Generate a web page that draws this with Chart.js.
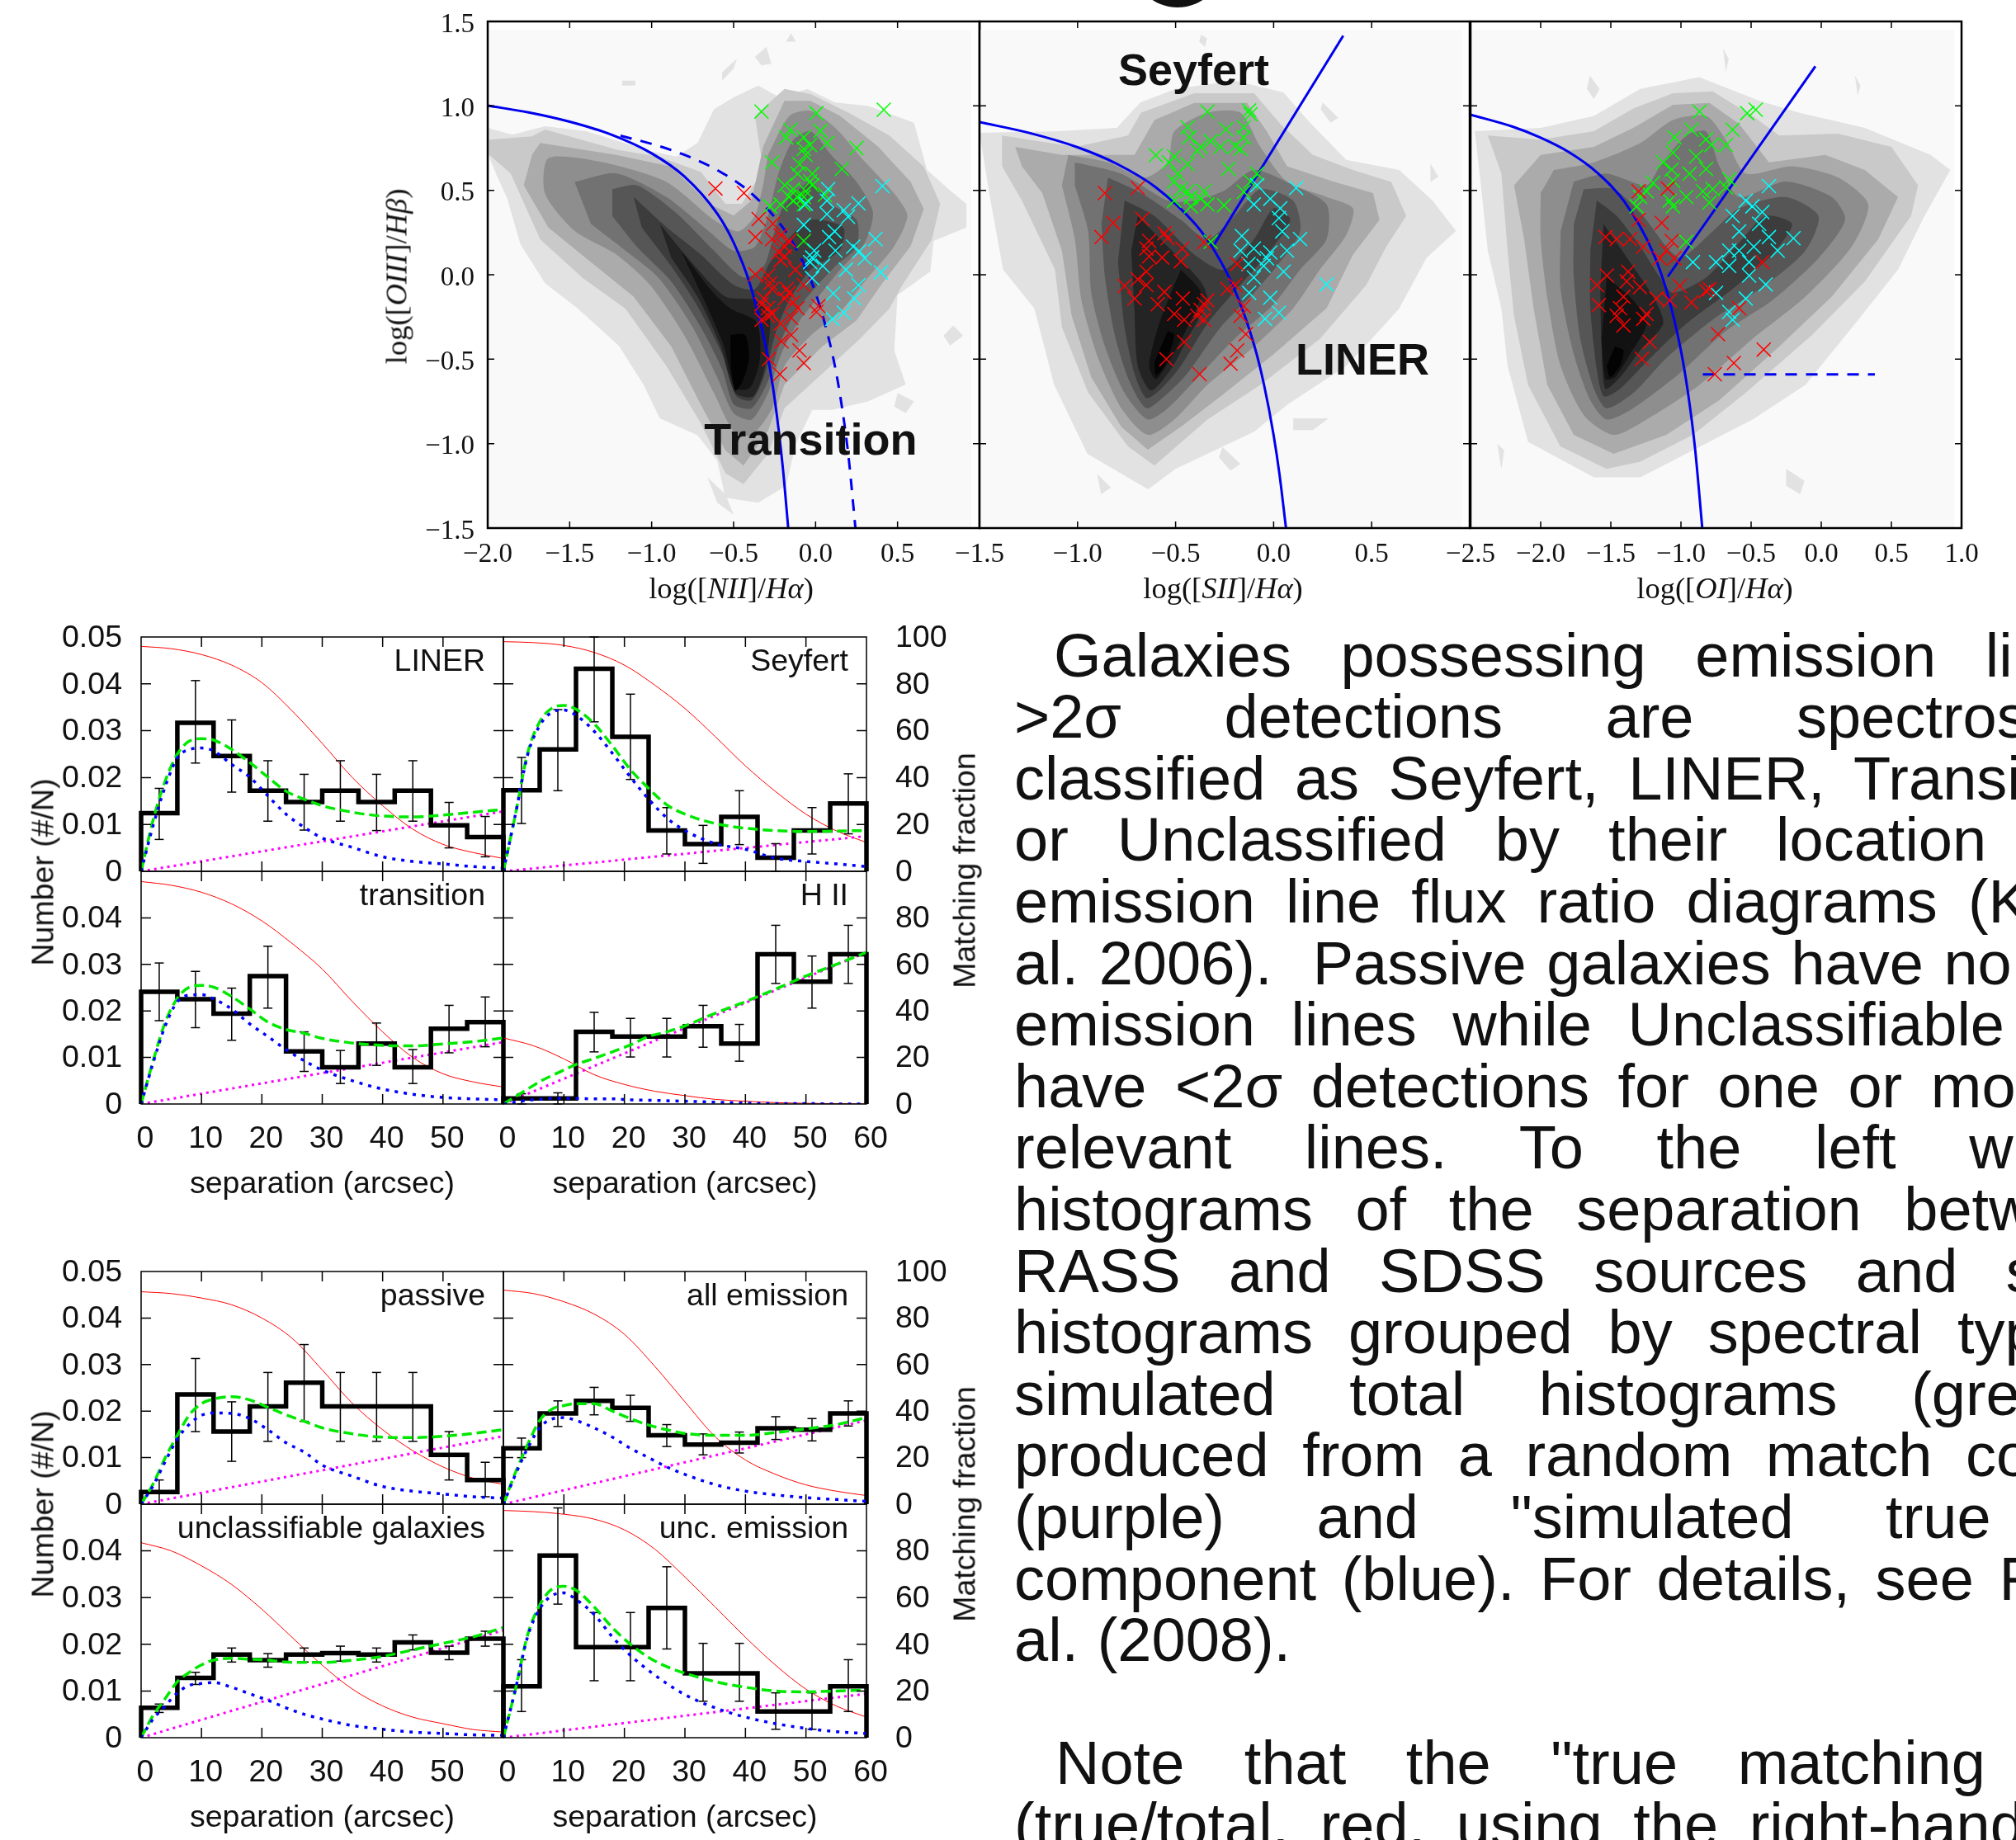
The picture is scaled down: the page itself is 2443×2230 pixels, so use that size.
<!DOCTYPE html>
<html><head><meta charset="utf-8">
<script src="https://cdn.jsdelivr.net/npm/chart.js@4"></script>
<style>
html,body{margin:0;padding:0;background:#fff}
#page{position:relative;width:2443px;height:2230px;overflow:hidden;background:#fff}
canvas{position:absolute}
.t{position:absolute;white-space:nowrap;color:#111}
.sans{font-family:"Liberation Sans",Arial,sans-serif;font-size:37.5px}
.serif{font-family:"Liberation Serif",serif;font-size:36.5px}
.para{position:absolute;white-space:pre;color:#111;font-family:"Liberation Sans",Arial,sans-serif;font-size:74px;line-height:74.6px;height:74.6px}
</style></head><body><div id="page"></div>
<script>
// ---------- histogram panels: shared axes ----------
const BIN_EDGES=[0,6,12,18,24,30,36,42,48,54,60];
const BIN_CENTERS=[3,9,15,21,27,33,39,45,51,57];
const CURVE_X=[0,2,4,6,8,10,12,15,18,21,24,27,30,35,40,45,50,55,60];
const RED_X=[0,5,10,15,20,25,30,35,40,45,50,55,60];
const PURPLE_X=[0,60];

const liner_hist=[.0124,.0317,.0246,.0172,.0148,.0172,.0148,.0172,.0098,.0073];
const liner_lo=[.0068,.0231,.0169,.0107,.0088,.0107,.0087,.0107,.005,.0031];
const liner_hi=[.0177,.0407,.0323,.0236,.0207,.0236,.0207,.0236,.0147,.0117];
const liner_blue=[0,.0098,.0181,.0242,.026,.0263,.0257,.0228,.0201,.0161,.0122,.0094,.0071,.0051,.0031,.0021,.0016,.001,.0007];
const liner_green=[0,.011,.0193,.025,.0278,.0283,.028,.026,.0232,.0201,.0171,.0154,.014,.0126,.0118,.0116,.012,.0126,.0132];
const liner_purple=[0,.0128];
const liner_red=[96,95,92.5,88,80.5,68.5,54.6,40,28,18,11.5,8,5.5];

const seyfert_hist=[.0173,.026,.0432,.0287,.0087,.0058,.0116,.0029,.0087,.0145];
const seyfert_lo=[.0102,.0172,.0319,.0196,.0037,.0017,.0057,0,.0037,.008];
const seyfert_hi=[.0243,.0345,.05,.0378,.0136,.0098,.0172,.0059,.0136,.0208];
const seyfert_blue=[0,.0122,.0248,.0311,.0339,.0344,.0333,.0299,.0252,.0201,.0154,.0114,.0087,.0059,.0047,.0028,.0021,.0016,.001];
const seyfert_green=[0,.0122,.0252,.0319,.0348,.0354,.0346,.0315,.0268,.0217,.0177,.0142,.0122,.0102,.0092,.0087,.0085,.0086,.0087];
const seyfert_purple=[0,.0075];
const seyfert_red=[98,97.6,96.4,93.4,88,79.5,69.5,57.5,45,34,24.4,17.3,12.3];

const transition_hist=[.0241,.0225,.0194,.0275,.0113,.0079,.013,.0079,.0162,.0176];
const transition_lo=[.0179,.0164,.0137,.0206,.007,.0044,.0083,.0044,.011,.0123];
const transition_hi=[.0303,.0285,.0249,.0339,.0155,.0115,.0174,.0117,.0212,.023];
const transition_blue=[0,.0089,.0168,.022,.0234,.0235,.0226,.0204,.0172,.0145,.0117,.0093,.0073,.005,.0032,.0021,.0014,.0011,.0009];
const transition_green=[0,.0093,.0176,.0227,.0251,.0255,.0251,.0231,.0204,.0176,.016,.0152,.0141,.0131,.0126,.0125,.0129,.0134,.0142];
const transition_purple=[0,.0133];
const transition_red=[95.6,94,91,86,78.7,69,58,44,31,20,13,9.5,7.3];

const hii_hist=[.0012,.0012,.0155,.0145,.0145,.0167,.013,.0322,.0263,.0322];
const hii_lo=[0,0,.0112,.0101,.0101,.0122,.0092,.0259,.0206,.0259];
const hii_hi=[.0022,.0024,.0197,.0184,.0184,.0212,.0171,.0384,.0318,.0384];
const hii_blue=[0,.0004,.0008,.001,.0012,.0012,.0012,.0011,.0011,.0009,.0008,.0007,.0006,.0004,.0002,.0001,.0001,0,0];
const hii_green=[0,.0016,.0032,.0048,.0061,.0073,.0085,.0098,.0112,.0127,.0145,.0155,.0168,.0195,.022,.0247,.0275,.03,.0326];
const hii_purple=[0,.0326];
const hii_red=[28.4,25,19.4,12.6,8.4,5.5,3.6,2,1.2,.6,.3,.15,0];

const passive_hist=[.0026,.0236,.0156,.021,.0261,.021,.021,.021,.0106,.0052];
const passive_lo=[0,.0156,.0092,.0135,.0178,.0135,.0135,.0135,.0052,.0016];
const passive_hi=[.0052,.0313,.022,.0283,.0343,.0283,.0283,.0283,.0156,.009];
const passive_blue=[0,.004,.0092,.014,.0172,.0191,.0196,.0195,.0184,.016,.0132,.0112,.0084,.006,.0038,.0028,.0022,.0016,.0013];
const passive_green=[0,.0044,.01,.0148,.0192,.0216,.0226,.0231,.0224,.0208,.0192,.0178,.0164,.0151,.0144,.0143,.0146,.0152,.016];
const passive_purple=[0,.0146];
const passive_red=[91.3,90.5,88.6,85.7,80,71.3,57.7,43.3,32,23,16,11.2,8.5];

const allem_hist=[.012,.0195,.0222,.0207,.0148,.0128,.0132,.0163,.016,.0195];
const allem_lo=[.01,.0167,.0192,.0178,.0124,.0106,.011,.0139,.0136,.0168];
const allem_hi=[.0142,.0222,.0251,.0234,.0171,.0151,.0155,.0188,.0184,.0222];
const allem_blue=[0,.0064,.012,.0164,.0183,.0186,.018,.0164,.0144,.012,.01,.008,.0064,.0042,.0028,.002,.0014,.001,.0006];
const allem_green=[0,.0068,.0128,.018,.0204,.0212,.0216,.0216,.02,.0184,.017,.016,.0152,.0148,.0148,.0154,.0162,.0171,.0186];
const allem_purple=[0,.018];
const allem_red=[92,90.5,87,81.7,73,59.3,44,29,19,12.8,8.3,5.6,3.7];

const uncl_hist=[.0064,.0128,.0178,.0166,.0178,.0181,.0178,.0204,.0182,.0212];
const uncl_lo=[.0054,.0114,.0162,.0151,.0162,.0164,.0162,.0188,.0167,.0196];
const uncl_hi=[.0072,.014,.0192,.018,.0192,.0196,.0192,.022,.0196,.0228];
const uncl_blue=[0,.004,.0068,.0096,.0112,.0116,.0118,.0108,.0094,.008,.0064,.005,.004,.0026,.0018,.0012,.0009,.0006,.0005];
const uncl_green=[0,.0048,.0084,.012,.014,.0156,.0166,.017,.0168,.0166,.0162,.0161,.0161,.0166,.0174,.0188,.0202,.0216,.0236];
const uncl_purple=[0,.023];
const uncl_red=[83.5,80,73.6,65.6,55,43,31,20.8,13.6,8.8,6,3.5,2.4];

const uncem_hist=[.011,.039,.0194,.0194,.0278,.0138,.0138,.0056,.0056,.011];
const uncem_lo=[.0056,.0286,.0122,.0122,.019,.0078,.0078,.0018,.0018,.0056];
const uncem_hi=[.0167,.0492,.0268,.0268,.0366,.0202,.0202,.0096,.0096,.0167];
const uncem_blue=[0,.0104,.0216,.0276,.0304,.031,.0296,.0264,.0216,.0176,.0144,.0116,.0092,.0064,.0044,.003,.002,.0013,.0009];
const uncem_green=[0,.0104,.022,.0284,.0318,.0324,.0316,.028,.0236,.02,.0172,.0152,.0138,.012,.0108,.01,.0098,.01,.0102];
const uncem_purple=[0,.0094];
const uncem_red=[97.3,96.8,95.7,93.6,89,80.8,68.8,56,43,31,20.8,13.6,8.8];

const X_TICKS_LEFT_HIDE=[60];
const PANEL_LABELS=['LINER','Seyfert','transition','H II','passive','all emission','unclassifiable galaxies','unc. emission'];

// ---------- diagnostic diagrams: boundary lines ----------
const nii_solid=[[-2,1.002],[-1.75,.961],[-1.5,.906],[-1.25,.831],[-1,.719],[-.8,.582],[-.6,.362],[-.5,.191],[-.4,-.056],[-.3,-.443],[-.25,-.733],[-.2,-1.14],[-.167,-1.5]];
const nii_dashed=[[-1.19,.823],[-1,.775],[-.8,.71],[-.6,.62],[-.4,.489],[-.2,.28],[-.1,.12],[0,-.108],[.1,-.459],[.15,-.716],[.2,-1.069],[.243,-1.5]];
const sii_solid=[[-1.5,.904],[-1.25,.841],[-1,.755],[-.8,.657],[-.6,.517],[-.4,.3],[-.3,.139],[-.2,-.085],[-.1,-.414],[-.05,-.646],[0,-.95],[.03,-1.183],[.063,-1.5]];
const sii_branch=[[-.304,.177],[.355,1.416]];
const oi_solid=[[-2.5,.948],[-2.2,.877],[-2,.812],[-1.8,.727],[-1.6,.607],[-1.4,.429],[-1.2,.133],[-1.1,-.101],[-1,-.45],[-.95,-.698],[-.9,-1.025],[-.848,-1.5]];
const oi_branch=[[-1.094,-.011],[-.042,1.234]];
const oi_dashed=[[-.844,-.59],[.382,-.59]];

// ---------- diagnostic diagrams: scatter points ----------
const nii_green=[[-.33,.966],[.416,.977],[.005,.957],[-.154,.859],[-.18,.814],[.03,.852],[-.072,.814],[.07,.78],[.25,.75],[-.033,.768],[-.072,.745],[-.06,.71],[-.265,.666],[.16,.627],[-.098,.655],[-.11,.598],[-.02,.598],[-.033,.552],[-.02,.53],[-.188,.53],[-.136,.507],[-.06,.495],[-.162,.461],[-.11,.461],[-.072,.461],[-.136,.439],[-.072,.416],[-.213,.416],[-.277,.405],[.057,.473],[-.072,.2]];
const nii_red=[[-.611,.511],[-.437,.484],[-.347,.33],[-.26,.302],[-.367,.223],[-.213,.234],[-.162,.2],[-.265,.211],[-.188,.166],[-.226,.132],[-.188,.109],[-.213,.086],[-.123,.03],[-.367,.002],[-.29,-.005],[-.277,-.05],[-.265,-.084],[-.072,-.061],[-.175,-.084],[-.162,-.107],[-.316,-.141],[-.329,-.175],[-.29,-.198],[-.136,-.164],[.018,-.186],[.005,-.22],[-.265,-.232],[-.329,-.266],[-.149,-.255],[-.213,-.289],[-.149,-.357],[-.208,-.395],[-.098,-.448],[-.285,-.5],[-.072,-.523],[-.218,-.589],[-.29,-.243],[-.188,-.141],[-.11,-.198]];
const nii_cyan=[[.408,.525],[.077,.507],[.069,.439],[.262,.423],[-.059,.42],[.172,.382],[.069,.359],[.198,.343],[-.072,.295],[.116,.257],[.082,.223],[.365,.211],[.229,.166],[.267,.139],[-.008,.143],[.121,.143],[-.021,.102],[.3,.098],[-.033,.075],[.044,.052],[.185,.03],[.398,.014],[-.021,-.02],[.262,-.061],[.108,-.111],[.236,-.141],[.172,-.225],[.103,-.261]];

const sii_green=[[-.338,.966],[-.125,.973],[-.118,.95],[-.439,.873],[-.243,.861],[-.152,.873],[-.429,.814],[-.152,.814],[-.321,.791],[-.372,.757],[-.27,.757],[-.196,.761],[-.169,.745],[-.389,.734],[-.601,.707],[-.507,.7],[-.439,.655],[-.534,.666],[-.23,.628],[-.084,.598],[-.49,.598],[-.507,.552],[-.118,.552],[-.473,.507],[-.439,.495],[-.355,.495],[-.152,.491],[-.507,.439],[-.422,.461],[-.372,.45],[-.338,.416],[-.253,.411],[-.422,.405],[-.321,.195]];
const sii_red=[[-.861,.484],[-.693,.514],[-.818,.307],[-.878,.223],[-.669,.33],[-.557,.245],[-.635,.2],[-.541,.216],[-.649,.155],[-.466,.155],[-.355,.193],[-.635,.109],[-.568,.102],[-.473,.08],[-.186,.064],[-.649,.018],[-.693,-.027],[-.76,-.066],[-.649,-.061],[-.557,-.102],[-.709,-.141],[-.591,-.175],[-.463,-.141],[-.236,-.084],[-.196,-.061],[-.507,-.232],[-.456,-.266],[-.389,-.243],[-.355,-.175],[-.338,-.152],[-.372,-.209],[-.152,-.186],[-.142,-.352],[-.456,-.398],[-.186,-.448],[-.547,-.5],[-.22,-.527],[-.378,-.589],[-.355,-.266],[-.169,-.243]];
const sii_cyan=[[.115,.514],[-.084,.53],[-.017,.45],[-.101,.416],[.034,.393],[.027,.336],[.044,.257],[.135,.211],[-.162,.23],[-.101,.155],[-.169,.143],[-.017,.132],[.068,.143],[-.034,.098],[.051,.018],[-.101,-.016],[.27,-.057],[-.125,-.107],[-.017,-.136],[.027,-.225],[-.044,-.261],[-.051,.052],[-.128,.064]];

const oi_green=[[-.467,.977],[-.528,.957],[-.868,.966],[-.925,.859],[-.632,.859],[-1.047,.814],[-.821,.802],[-.783,.768],[-.679,.768],[-.892,.7],[-1.057,.723],[-1.127,.666],[-.821,.627],[-1.066,.623],[-.939,.598],[-.656,.564],[-1.198,.545],[-1.057,.557],[-1.245,.495],[-.844,.495],[-.774,.507],[-.679,.518],[-1.292,.461],[-1.08,.439],[-.962,.461],[-.797,.427],[-1.316,.405],[-1.057,.405],[-.962,.195]];
const oi_red=[[-1.302,.495],[-1.094,.511],[-1.302,.325],[-1.137,.307],[-1.538,.223],[-1.458,.211],[-1.363,.211],[-1.269,.166],[-1.066,.2],[-1.104,.143],[-1.151,.098],[-1.047,.098],[-1.377,.018],[-1.528,-.005],[-1.599,-.061],[-1.387,-.039],[-1.292,-.073],[-1.009,-.066],[-.797,-.084],[-1.41,-.13],[-1.175,-.141],[-1.08,-.152],[-.925,-.164],[-1.585,-.18],[-1.434,-.198],[-1.245,-.232],[-1.458,-.243],[-1.269,-.261],[-1.41,-.3],[-.42,.075],[-.585,-.198],[-.736,-.352],[-1.222,-.398],[-1.278,-.498],[-.41,-.443],[-.623,-.523],[-.759,-.589],[-.821,-.095]];
const oi_cyan=[[-.373,.525],[-.538,.439],[-.491,.405],[-.632,.348],[-.42,.371],[-.443,.302],[-.585,.257],[-.373,.223],[-.198,.216],[-.481,.166],[-.656,.143],[-.585,.143],[-.311,.143],[-.915,.075],[-.75,.075],[-.656,.052],[-.514,.075],[-.514,-.005],[-.396,-.057],[-.75,-.107],[-.538,-.141],[-.656,-.22],[-.632,-.266]];

// ---------- diagnostic diagrams: density contours, outermost first ----------
const LEVEL_GRAYS=['#e2e2e2','#c9c9c9','#ababab','#8e8e8e','#727272','#565656','#3c3c3c','#242424','#121212','#030303'];
const nii_contours=[
[[-2,.87],[-1.85,.83],[-1.65,.88],[-1.4,.85],[-1.2,.79],[-1,.73],[-.85,.7],[-.72,.78],[-.62,.98],[-.5,1.05],[-.35,1.12],[-.22,1.05],[-.05,1.1],[.12,1.02],[.32,1],[.6,.9],[.68,.62],[.82,.5],[.92,.42],[.92,.28],[.72,.2],[.7,.02],[.5,-.12],[.48,-.45],[.55,-.65],[.32,-.75],[.1,-.8],[-.02,-.8],[-.12,-1],[-.18,-1.25],[-.35,-1.35],[-.55,-1.32],[-.6,-1.1],[-.72,-.95],[-.95,-.85],[-1.05,-.65],[-1.2,-.42],[-1.45,-.2],[-1.65,-.05],[-1.8,.18],[-1.88,.45],[-1.95,.6],[-2,.72]],
[[-1.99,.8],[-1.73,.82],[-1.65,.86],[-1.21,.74],[-.96,.7],[-.7,.61],[-.55,.42],[-.45,.42],[-.32,.62],[-.37,.94],[-.19,1.1],[-.03,1.07],[.2,.96],[.45,.825],[.66,.64],[.76,.42],[.71,.21],[.53,-.06],[.45,-.2],[.27,-.38],[.07,-.56],[-.19,-.79],[-.29,-1.06],[-.44,-1.24],[-.55,-1.175],[-.7,-.88],[-.91,-.54],[-1.16,-.2],[-1.42,-.02],[-1.68,.21],[-1.86,.6],[-1.99,.71]],
[[-1.68,.78],[-1.215,.71],[-.88,.64],[-.65,.42],[-.5,.35],[-.39,.44],[-.32,.76],[-.19,1.03],[-.03,1.03],[.15,.94],[.38,.76],[.58,.55],[.66,.39],[.58,.17],[.4,-.06],[.25,-.27],[.04,-.425],[-.19,-.65],[-.29,-.925],[-.44,-1.13],[-.55,-1.04],[-.7,-.77],[-.88,-.425],[-1.11,-.13],[-1.37,.075],[-1.63,.28],[-1.78,.53],[-1.73,.71]],
[[-.29,.71],[-.16,.94],[-.03,.97],[.12,.87],[.3,.67],[.48,.48],[.56,.35],[.48,.17],[.3,-.04],[.15,-.22],[-.03,-.36],[-.19,-.54],[-.265,-.79],[-.39,-.95],[-.5,-.925],[-.62,-.7],[-.8,-.36],[-1.01,-.06],[-1.215,.12],[-1.47,.26],[-1.65,.48],[-1.63,.69],[-1.32,.67],[-.91,.55],[-.62,.325],[-.47,.257],[-.37,.35],[-.32,.53]],
[[-1.47,.55],[-1.215,.6],[-.91,.46],[-.65,.257],[-.5,.143],[-.37,.166],[-.29,.35],[-.226,.6],[-.136,.8],[-.03,.85],[.095,.71],[.25,.55],[.35,.37],[.3,.19],[.15,.03],[.018,-.13],[-.11,-.29],[-.21,-.47],[-.29,-.7],[-.39,-.857],[-.5,-.82],[-.6,-.607],[-.75,-.31],[-.96,-.016],[-1.16,.143],[-1.37,.3]],
[[-1.24,.507],[-1.09,.53],[-.855,.37],[-.62,.143],[-.44,-.016],[-.316,.05],[-.25,.257],[-.19,.416],[-.03,.55],[.095,.416],[.25,.325],[.25,.166],[.12,.05],[-.03,-.107],[-.136,-.243],[-.226,-.425],[-.29,-.63],[-.39,-.79],[-.5,-.766],[-.57,-.56],[-.7,-.31],[-.88,-.04],[-1.09,.166],[-1.24,.348]],
[[-1.11,.46],[-.907,.28],[-.7,.12],[-.5,-.06],[-.37,-.084],[-.277,.075],[-.188,.19],[-.03,.325],[.17,.28],[.146,.143],[-.03,.03],[-.16,-.15],[-.24,-.334],[-.316,-.607],[-.39,-.743],[-.483,-.72],[-.57,-.47],[-.727,-.175],[-.88,.05],[-1.06,.28]],
[[-.95,.3],[-.78,.1],[-.55,-.13],[-.37,-.15],[-.28,-.25],[-.31,-.55],[-.38,-.72],[-.49,-.7],[-.58,-.42],[-.72,-.13],[-.88,.1]],
[[-.82,.14],[-.63,-.1],[-.52,-.2],[-.36,-.28],[-.34,-.5],[-.4,-.67],[-.49,-.67],[-.56,-.42],[-.67,-.17]],
[[-.52,-.357],[-.43,-.357],[-.406,-.493],[-.445,-.63],[-.49,-.686],[-.516,-.56]]
];
const sii_contours=[
[[-1.5,.84],[-1.1,.85],[-.8,.87],[-.68,1.02],[-.5,1.1],[-.2,1.15],[.05,1.08],[.17,.92],[.37,.68],[.64,.62],[.81,.44],[.93,.26],[.78,.1],[.64,-.2],[.5,-.38],[.37,-.54],[.07,-.77],[-.1,-.93],[-.5,-1.15],[-.64,-1.27],[-.95,-1.06],[-1.12,-.65],[-1.22,-.2],[-1.38,.03],[-1.45,.48]],
[[-1.385,.825],[-1.01,.757],[-.743,.825],[-.676,.96],[-.405,1.075],[-.1,1.075],[.034,.893],[.2,.71],[.405,.62],[.6,.55],[.676,.348],[.574,.166],[.473,-.06],[.236,-.38],[-.068,-.652],[-.338,-.857],[-.608,-1.13],[-.743,-1.016],[-.946,-.698],[-1.08,-.31],[-1.115,.03],[-1.284,.44],[-1.385,.643]],
[[-1.318,.757],[-1.08,.71],[-.878,.71],[-.71,.71],[-.608,.916],[-.405,1.018],[-.135,1.018],[-.034,.848],[.068,.643],[.304,.552],[.507,.484],[.54,.325],[.405,.12],[.27,-.198],[0,-.47],[-.27,-.72],[-.473,-.9],[-.642,-1.036],[-.777,-.9],[-.93,-.607],[-1.03,-.243],[-1.08,.143],[-1.18,.484],[-1.284,.643]],
[[-1.047,.71],[-.845,.666],[-.66,.575],[-.54,.666],[-.507,.848],[-.338,.96],[-.17,.96],[-.068,.757],[.068,.552],[.27,.461],[.405,.393],[.37,.234],[.236,.03],[.1,-.198],[-.1,-.425],[-.338,-.652],[-.507,-.857],[-.642,-.948],[-.777,-.79],[-.895,-.493],[-.98,-.152],[-1.014,.211],[-1.08,.53]],
[[-1.014,.666],[-.777,.598],[-.54,.439],[-.405,.439],[-.25,.5],[-.1,.62],[.1,.53],[.27,.416],[.27,.21],[.135,.03],[0,-.175],[-.2,-.38],[-.405,-.63],[-.54,-.79],[-.642,-.857],[-.76,-.7],[-.86,-.425],[-.93,-.107],[-.946,.257],[-1.014,.53]],
[[-.845,.575],[-.676,.484],[-.473,.325],[-.338,.21],[-.2,.348],[-.068,.507],[.1,.439],[.135,.257],[.017,.052],[-.1,-.107],[-.27,-.31],[-.44,-.584],[-.557,-.72],[-.649,-.79],[-.736,-.63],[-.81,-.357],[-.86,-.016],[-.878,.3]],
[[-.76,.44],[-.608,.348],[-.405,.12],[-.253,.03],[-.1,.21],[0,.393],[.085,.325],[-.034,.12],[-.17,-.06],[-.338,-.29],[-.473,-.54],[-.574,-.675],[-.649,-.73],[-.71,-.584],[-.76,-.31],[-.794,.075]],
[[-.693,.348],[-.54,.166],[-.372,-.04],[-.338,-.152],[-.44,-.38],[-.524,-.56],[-.625,-.686],[-.693,-.54],[-.71,-.2],[-.726,.143]],
[[-.473,.03],[-.372,-.107],[-.44,-.31],[-.524,-.493],[-.6,-.618],[-.635,-.54],[-.59,-.31],[-.524,-.107]],
[[-.54,-.334],[-.507,-.357],[-.557,-.54],[-.6,-.595],[-.608,-.516]]
];
const oi_contours=[
[[-2.47,.85],[-2,.87],[-1.62,.94],[-1.29,1.1],[-.87,1.17],[-.44,1.03],[-.16,.96],[.31,.87],[.78,.71],[.92,.62],[.736,.348],[.547,.03],[.264,-.266],[-.113,-.652],[-.49,-.857],[-.915,-1.04],[-1.29,-1.2],[-1.62,-1.2],[-2.09,-.99],[-2.236,-.54],[-2.28,-.2],[-2.377,.143],[-2.42,.484]],
[[-2.377,.825],[-2,.8],[-1.62,.85],[-1.34,.984],[-1.057,1.075],[-.774,1.086],[-.49,.94],[-.3,.825],[.12,.836],[.5,.757],[.69,.53],[.64,.348],[.31,-.04],[-.066,-.357],[-.54,-.7],[-.915,-.948],[-1.29,-1.107],[-1.53,-1.15],[-1.86,-1.016],[-2.09,-.652],[-2.19,-.243],[-2.236,.143],[-2.28,.6]],
[[-2,.71],[-1.62,.757],[-1.34,.87],[-1.057,1.007],[-.797,1.018],[-.585,.893],[-.373,.666],[.03,.71],[.31,.62],[.547,.46],[.406,.21],[.075,-.13],[-.3,-.425],[-.726,-.743],[-1.104,-.948],[-1.48,-1.06],[-1.764,-.948],[-1.953,-.652],[-2.05,-.2],[-2.118,.21],[-2.19,.53]],
[[-1.906,.62],[-1.62,.666],[-1.29,.78],[-1.057,.916],[-.82,.94],[-.68,.8],[-.538,.6],[-.208,.643],[.123,.575],[.335,.416],[.217,.166],[-.113,-.13],[-.49,-.38],[-.868,-.652],[-1.245,-.857],[-1.48,-.948],[-1.69,-.834],[-1.858,-.54],[-1.95,-.152],[-2,.21],[-2,.484]],
[[-1.764,.552],[-1.53,.598],[-1.245,.53],[-1.15,.643],[-.96,.825],[-.82,.848],[-.726,.643],[-.585,.46],[-.255,.552],[.075,.46],[.17,.325],[-.02,.098],[-.35,-.152],[-.68,-.334],[-1.01,-.584],[-1.34,-.79],[-1.53,-.857],[-1.646,-.743],[-1.764,-.47],[-1.858,-.084],[-1.858,.257]],
[[-1.693,.507],[-1.48,.507],[-1.27,.348],[-1.104,.166],[-1,.1],[-.774,.257],[-.585,.393],[-.255,.46],[-.02,.348],[-.113,.143],[-.396,-.06],[-.774,-.266],[-1.104,-.493],[-1.34,-.7],[-1.53,-.79],[-1.62,-.675],[-1.717,-.38],[-1.764,-.016],[-1.764,.3]],
[[-1.6,.44],[-1.458,.348],[-1.29,.166],[-1.15,-.016],[-1.057,-.107],[-.82,-.016],[-.585,.19],[-.396,.348],[-.208,.3],[-.35,.12],[-.632,-.084],[-.962,-.29],[-1.245,-.516],[-1.434,-.675],[-1.55,-.72],[-1.6,-.56],[-1.646,-.2],[-1.646,.143]],
[[-1.552,.3],[-1.363,.075],[-1.198,-.13],[-1.127,-.29],[-1.292,-.448],[-1.434,-.607],[-1.538,-.675],[-1.566,-.425],[-1.575,-.084]],
[[-1.528,-.016],[-1.34,-.152],[-1.245,-.29],[-1.363,-.47],[-1.47,-.607],[-1.538,-.618],[-1.566,-.38]],
[[-1.47,-.425],[-1.41,-.448],[-1.434,-.54],[-1.505,-.607],[-1.53,-.54]]
];
// small isolated patches of the faintest level
const nii_specks=[[[-.57,1.2],[-.48,1.28],[-.5,1.22],[-.57,1.15]],[[-.37,1.29],[-.3,1.35],[-.27,1.25],[-.33,1.24]],[[-1.18,1.15],[-1.1,1.15],[-1.1,1.12],[-1.18,1.12]],[[-.15,1.43],[-.12,1.38],[-.18,1.38]],[[-.66,-1.2],[-.55,-1.3],[-.5,-1.42],[-.6,-1.35]],[[.84,-.3],[.9,-.36],[.82,-.42],[.78,-.36]],[[.5,-.7],[.6,-.75],[.55,-.82],[.48,-.78]]];
const sii_specks=[[[-.37,1.42],[-.34,1.4],[-.35,1.35],[-.38,1.38]],[[.25,1.02],[.33,.93],[.29,.9],[.24,.98]],[[.8,.66],[.84,.58],[.8,.55]],[[.1,-.85],[.28,-.85],[.2,-.92],[.1,-.92]],[[-.26,-1.02],[-.17,-1.12],[-.22,-1.16],[-.28,-1.08]],[[-.9,-1.18],[-.83,-1.26],[-.88,-1.3]]];
const oi_specks=[[[-1.65,1.18],[-1.58,1.1],[-1.62,1.04],[-1.67,1.1]],[[-.7,1.34],[-.66,1.28],[-.68,1.2]],[[.24,1.18],[.28,1.12],[.26,1.06]],[[-.25,-1.15],[-.12,-1.22],[-.15,-1.3],[-.25,-1.25]],[[-2.31,-1],[-2.26,-1.04],[-2.28,-1.15]]];

// ---------- paragraph text, visible part of each line ----------
const PARA_LINES=['Galaxies possessing emission li','>2σ detections are spectros','classified as Seyfert, LINER, Transi','or Unclassified by their location','emission line flux ratio diagrams (K','al. 2006).\u00a0 Passive galaxies have no','emission lines while Unclassifiable','have <2σ detections for one or mo','relevant lines. To the left w','histograms of the separation betw','RASS and SDSS sources and s','histograms grouped by spectral typ','simulated total histograms (gre','produced from a random match co','(purple) and "simulated true','component (blue). For details, see F','al. (2008).','','Note that the "true matching','(true/total, red, using the right-hand'];
const PARA_WORD_GAPS=[39,104,15,38.5,16.5,4,23,14,68,31,38,22.5,69,20,91,10,2,0,52,17];
const PARA_INDENT=[48,0,0,0,0,0,0,0,0,0,0,0,0,0,0,0,0,0,50,0];

// ---------- helpers ----------
const page=document.getElementById('page');
const pts=a=>a.map(p=>({x:p[0],y:p[1]}));
const zip=(xs,ys)=>xs.map((x,i)=>({x,y:ys[i]}));
function histPts(v){const r=[{x:0,y:0},{x:0,y:v[0]}];for(let i=1;i<v.length;i++)r.push({x:BIN_EDGES[i],y:v[i]});r.push({x:60,y:0});return r;}
function errPts(lo,hi){const r=[];BIN_CENTERS.forEach((c,i)=>{r.push({x:c,y:lo[i]},{x:c,y:hi[i]},{x:c,y:null});});return r;}
function addText(html,cls,cx,cy,rot){const d=document.createElement('div');d.className='t '+cls;d.innerHTML=html;d.style.left=cx+'px';d.style.top=cy+'px';d.style.transform='translate(-50%,-50%)'+(rot?' rotate(-90deg)':'');page.appendChild(d);}

const framePlugin={id:'frame',afterDatasetsDraw(chart,a,o){
  const {ctx,chartArea:c}=chart;const sx=chart.scales.x,sy=chart.scales.y;
  ctx.save();ctx.strokeStyle='#000';ctx.lineWidth=o.tickWidth;ctx.beginPath();
  sx.ticks.forEach(t=>{const p=sx.getPixelForValue(t.value);if(p<c.left+2||p>c.right-2)return;ctx.moveTo(p,c.bottom);ctx.lineTo(p,c.bottom-o.len);ctx.moveTo(p,c.top);ctx.lineTo(p,c.top+o.len);});
  sy.ticks.forEach(t=>{const p=sy.getPixelForValue(t.value);if(p<c.top+2||p>c.bottom-2)return;ctx.moveTo(c.left,p);ctx.lineTo(c.left+o.len,p);ctx.moveTo(c.right,p);ctx.lineTo(c.right-o.len,p);});
  ctx.stroke();ctx.lineWidth=o.width;ctx.strokeRect(c.left,c.top,c.right-c.left,c.bottom-c.top);ctx.restore();
  if(o.label){ctx.save();ctx.font='37.5px "Liberation Sans"';ctx.fillStyle='#111';ctx.textAlign='right';ctx.textBaseline='middle';ctx.fillText(o.label,c.right-22,c.top+31);ctx.restore();}
  if(o.note){ctx.save();ctx.font='bold 54px "Liberation Sans"';ctx.fillStyle='#111';ctx.textAlign='center';ctx.textBaseline='alphabetic';ctx.fillText(o.note.text,sx.getPixelForValue(o.note.x),sy.getPixelForValue(o.note.y));ctx.restore();}
}};

function makeChart(rect,m,datasets,scales,frame){
  const cv=document.createElement('canvas');const W=rect.r-rect.l+m.l+m.r,H=rect.b-rect.t+m.t+m.b;
  cv.width=W;cv.height=H;cv.style.left=(rect.l-m.l)+'px';cv.style.top=(rect.t-m.t)+'px';cv.style.width=W+'px';cv.style.height=H+'px';page.appendChild(cv);
  const zero=s=>{s.paddingLeft=s.paddingRight=s.paddingTop=s.paddingBottom=0;};
  scales.x.afterFit=s=>{s.height=m.b;zero(s);};scales.y.afterFit=s=>{s.width=m.l;zero(s);};
  if(scales.y1)scales.y1.afterFit=s=>{if(scales.y1.display)s.width=m.r;zero(s);};
  return new Chart(cv,{type:'line',data:{datasets},plugins:[framePlugin],options:{responsive:false,animation:false,events:[],devicePixelRatio:1,
    layout:{autoPadding:false,padding:{left:0,top:m.t,bottom:0,right:(scales.y1&&scales.y1.display)?0:m.r}},
    plugins:{legend:{display:false},tooltip:{enabled:false},title:{display:false},frame},scales}});
}
const noGrid={grid:{display:false,drawTicks:false},border:{display:false}};

// ---------- the eight histogram panels ----------
function histPanel(rect,col,isBottom,isTopOfPair,label,hist,lo,hi,blue,green,purple,red){
  const m={l:col===0?165:30,r:col===0?20:150,t:30,b:130};
  const fontT={family:'"Liberation Sans"',size:37.5};
  const ds=[
   {data:zip(RED_X,red),yAxisID:'y1',borderColor:'#ff0000',borderWidth:1,pointRadius:0,cubicInterpolationMode:'monotone',order:6},
   {data:zip(PURPLE_X,purple),borderColor:'#ff00ff',borderWidth:3,borderDash:[3,5],pointRadius:0,order:5},
   {data:histPts(hist),borderColor:'#000',borderWidth:5.5,stepped:true,pointRadius:0,clip:false,borderJoinStyle:'miter',order:4},
   {data:errPts(lo,hi),borderColor:'#000',borderWidth:1.5,pointStyle:'line',pointRadius:5.5,pointBorderWidth:1.5,pointBorderColor:'#000',spanGaps:false,clip:false,order:3},
   {data:zip(CURVE_X,green),borderColor:'#00e800',borderWidth:3.5,borderDash:[12,6],pointRadius:0,cubicInterpolationMode:'monotone',order:2},
   {data:zip(CURVE_X,blue),borderColor:'#0000ff',borderWidth:3.5,borderDash:[4,7],pointRadius:0,cubicInterpolationMode:'monotone',order:1}
  ];
  const scales={
   x:{type:'linear',min:0,max:60,...noGrid,ticks:{display:isBottom,stepSize:10,autoSkip:false,maxRotation:0,font:fontT,color:'#111',padding:20,labelOffset:5,
      callback:v=>(col===0&&X_TICKS_LEFT_HIDE.includes(v))?'':String(v)},
      title:{display:isBottom,text:'separation (arcsec)',font:fontT,color:'#111',padding:{top:0,bottom:10}}},
   y:{type:'linear',min:0,max:.05,...noGrid,ticks:{display:col===0,stepSize:.01,autoSkip:false,font:fontT,color:'#111',padding:23,labelOffset:1.5,
      callback:v=>{const s=+v;if(s===0)return '0';if(!isTopOfPair&&s>.0495)return '';return s.toFixed(2);}}},
   y1:{type:'linear',position:'right',min:0,max:100,display:col===1,...noGrid,ticks:{stepSize:20,autoSkip:false,font:fontT,color:'#111',padding:35,labelOffset:1.5,
      callback:v=>(!isTopOfPair&&v===100)?'':String(v)}}
  };
  makeChart(rect,m,ds,scales,{width:1.5,tickWidth:1.5,len:12,label});
}
const XL={l:171,r:610},XR={l:610,r:1050};
histPanel({...XL,t:772,b:1056},0,false,true,PANEL_LABELS[0],liner_hist,liner_lo,liner_hi,liner_blue,liner_green,liner_purple,liner_red);
histPanel({...XR,t:772,b:1056},1,false,true,PANEL_LABELS[1],seyfert_hist,seyfert_lo,seyfert_hi,seyfert_blue,seyfert_green,seyfert_purple,seyfert_red);
histPanel({...XL,t:1056,b:1338},0,true,false,PANEL_LABELS[2],transition_hist,transition_lo,transition_hi,transition_blue,transition_green,transition_purple,transition_red);
histPanel({...XR,t:1056,b:1338},1,true,false,PANEL_LABELS[3],hii_hist,hii_lo,hii_hi,hii_blue,hii_green,hii_purple,hii_red);
histPanel({...XL,t:1541,b:1823},0,false,true,PANEL_LABELS[4],passive_hist,passive_lo,passive_hi,passive_blue,passive_green,passive_purple,passive_red);
histPanel({...XR,t:1541,b:1823},1,false,true,PANEL_LABELS[5],allem_hist,allem_lo,allem_hi,allem_blue,allem_green,allem_purple,allem_red);
histPanel({...XL,t:1823,b:2106},0,true,false,PANEL_LABELS[6],uncl_hist,uncl_lo,uncl_hi,uncl_blue,uncl_green,uncl_purple,uncl_red);
histPanel({...XR,t:1823,b:2106},1,true,false,PANEL_LABELS[7],uncem_hist,uncem_lo,uncem_hi,uncem_blue,uncem_green,uncem_purple,uncem_red);
addText('Number (#/N)','sans',52,1057,true);addText('Matching fraction','sans',1169,1055,true);
addText('Number (#/N)','sans',52,1823,true);addText('Matching fraction','sans',1169,1823,true);

// ---------- the three diagnostic diagrams ----------
function diagram(rect,xmin,bgRight,showY,hideX,contours,specks,lines,green,red,cyan,note){
  const m={l:showY?150:50,r:40,t:30,b:70};
  const f={family:'"Liberation Serif"',size:33};
  const fmt=v=>{const s=Math.abs(v).toFixed(1);return (v<-1e-9?'\u2212':'')+s;};
  const ds=[];
  ds.push({data:pts([[xmin,-1.5],[xmin,1.45],[bgRight,1.45],[bgRight,-1.5]]),fill:'shape',backgroundColor:'#f9f9f9',borderWidth:0,pointRadius:0,order:300});
  specks.forEach(c=>ds.push({data:pts(c),fill:'shape',backgroundColor:LEVEL_GRAYS[0],borderWidth:0,pointRadius:0,order:250}));
  contours.forEach((c,i)=>ds.push({data:pts(c),fill:'shape',backgroundColor:LEVEL_GRAYS[i],borderWidth:0,pointRadius:0,tension:i<3?0:.25,order:200-i}));
  lines.forEach((l,i)=>ds.push({data:pts(l.d),borderColor:'#0000ee',borderWidth:l.w||3,borderDash:l.dash||[],pointRadius:0,cubicInterpolationMode:l.d.length>2?'monotone':'default',order:20+i}));
  [[green,'#00ff00',5],[cyan,'#00ffff',4],[red,'#ff0000',3]].forEach(s=>ds.push({data:pts(s[0]),showLine:false,pointStyle:'crossRot',pointRadius:12,pointBorderWidth:1.5,pointBorderColor:s[1],pointBackgroundColor:s[1],clip:false,order:s[2]}));
  const scales={
   x:{type:'linear',min:xmin,max:1,...noGrid,ticks:{stepSize:.5,autoSkip:false,maxRotation:0,font:f,color:'#111',padding:13,callback:v=>hideX.includes(+(+v).toFixed(1))?'':fmt(v)}},
   y:{type:'linear',min:-1.5,max:1.5,...noGrid,ticks:{display:showY,stepSize:.5,autoSkip:false,font:f,color:'#111',padding:16,labelOffset:4,callback:fmt}}
  };
  makeChart(rect,m,ds,scales,{width:2.5,tickWidth:1.5,len:8,note});
}
diagram({l:591,r:1187,t:26,b:640},-2,.95,true,[1],nii_contours,nii_specks,[{d:nii_solid},{d:nii_dashed,dash:[14,11]}],nii_green,nii_red,nii_cyan,{text:'Transition',x:-.03,y:-1.063});
diagram({l:1187,r:1781,t:26,b:640},-1.5,.96,false,[1],sii_contours,sii_specks,[{d:sii_solid},{d:sii_branch}],sii_green,sii_red,sii_cyan,{text:'Seyfert',x:-.408,y:1.124});
diagram({l:1782,r:2377,t:26,b:640},-2.5,.95,false,[],oi_contours,oi_specks,[{d:oi_solid},{d:oi_branch},{d:oi_dashed,dash:[14,11]}],oi_green,oi_red,oi_cyan,null);
// LINER label on the middle diagram
(function(){const d=document.createElement('div');d.className='t';d.textContent='LINER';d.style.cssText='left:1570px;top:405px;font:bold 54px "Liberation Sans";color:#111;line-height:60px;z-index:5';page.appendChild(d);})();
addText('log([<i>NII</i>]/<i>Hα</i>)','serif',886,712);
addText('log([<i>SII</i>]/<i>Hα</i>)','serif',1482,712);
addText('log([<i>OI</i>]/<i>Hα</i>)','serif',2078,712);
addText('log([<i>OIII</i>]/<i>Hβ</i>)','serif',480,335,true);

// cut-off glyph at the page's top edge
(function(){const d=document.createElement('div');d.style.cssText='position:absolute;left:1371px;top:-103px;width:112px;height:112px;border-radius:50%;background:#111';page.appendChild(d);})();

// ---------- paragraph ----------
PARA_LINES.forEach((s,i)=>{if(!s)return;const d=document.createElement('div');d.className='para';d.textContent=s;d.style.left=(1229+PARA_INDENT[i])+'px';d.style.top=(757.5+i*74.6)+'px';d.style.wordSpacing=PARA_WORD_GAPS[i]+'px';page.appendChild(d);});
</script></body></html>
